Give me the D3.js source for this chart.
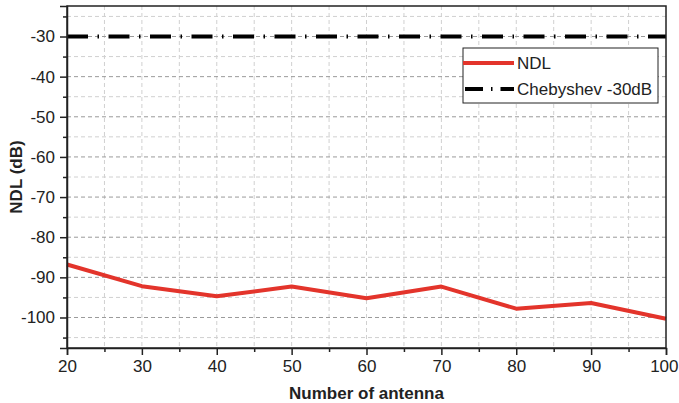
<!DOCTYPE html>
<html lang="en">
<head>
<meta charset="UTF-8">
<title>NDL vs number of antenna</title>
<script src="https://cdn.jsdelivr.net/npm/d3@7"></script>
<style>
  body { margin: 0; background: #fff; }
  text { font-family: "Liberation Sans", Arial, sans-serif; fill: #222; }
</style>
</head>
<body>
<div id="chart"></div>
<script>
// data
var antennas = [20, 30, 40, 50, 60, 70, 80, 90, 100];
var ndl = [-86.8, -92.2, -94.7, -92.3, -95.2, -92.3, -97.8, -96.4, -100.3];
var chebyshev = -30;
var xTicks = [20, 30, 40, 50, 60, 70, 80, 90, 100];
var yTicks = [-30, -40, -50, -60, -70, -80, -90, -100];
var legendLabels = ["NDL", "Chebyshev -30dB"];

var W = 679, H = 403;
var m = {left: 67, right: 13, top: 6, bottom: 55};

var svg = d3.select("#chart").append("svg")
  .attr("width", W).attr("height", H);

var x = d3.scaleLinear().domain([20, 100]).range([m.left, W - m.right]);
var y = d3.scaleLinear().domain([-107.6, -22.4]).range([H - m.bottom, m.top]);

var xMinor = d3.range(20, 100.1, 5);
var yMinor = d3.range(-105, -24, 5);

// grid
svg.append("g").selectAll("line.vg")
  .data(xMinor.filter(function(d){ return d > 20 && d < 100; }))
  .enter().append("line")
  .attr("x1", function(d){ return x(d); }).attr("x2", function(d){ return x(d); })
  .attr("y1", y.range()[1]).attr("y2", y.range()[0])
  .attr("stroke", "#d0d0d0").attr("stroke-width", 1).attr("stroke-dasharray", "4,3");

svg.append("g").selectAll("line.hg")
  .data(yMinor)
  .enter().append("line")
  .attr("x1", x.range()[0]).attr("x2", x.range()[1])
  .attr("y1", function(d){ return y(d); }).attr("y2", function(d){ return y(d); })
  .attr("stroke", function(d){ return d % 10 === 0 ? "#9a9a9a" : "#d0d0d0"; })
  .attr("stroke-width", 1).attr("stroke-dasharray", "4,3");

// chebyshev reference
svg.append("line")
  .attr("x1", x(20)).attr("x2", x(100))
  .attr("y1", y(chebyshev)).attr("y2", y(chebyshev))
  .attr("stroke", "#000").attr("stroke-width", 4)
  .attr("stroke-dasharray", "21,9.5,1.5,9.5");

// NDL line
var line = d3.line()
  .x(function(d, i){ return x(antennas[i]); })
  .y(function(d){ return y(d); });

svg.append("path")
  .datum(ndl)
  .attr("d", line)
  .attr("fill", "none")
  .attr("stroke", "#e3342b")
  .attr("stroke-width", 4)
  .attr("stroke-linejoin", "round");

// axes
var fmt = function(d){ return String(d); };
var xg = svg.append("g")
  .attr("transform", "translate(0," + y.range()[0] + ")")
  .call(d3.axisBottom(x).tickValues(xTicks).tickSize(7).tickPadding(5).tickFormat(fmt));
svg.append("g")
  .attr("transform", "translate(" + x.range()[0] + ",0)")
  .call(d3.axisLeft(y).tickValues(yTicks).tickSize(7).tickPadding(5).tickFormat(fmt));

svg.append("g")
  .attr("transform", "translate(0," + y.range()[0] + ")")
  .call(d3.axisBottom(x).tickValues(xMinor.filter(function(d){ return d % 10 !== 0; })).tickSize(4).tickFormat(""))
  .select(".domain").remove();
svg.append("g")
  .attr("transform", "translate(" + x.range()[0] + ",0)")
  .call(d3.axisLeft(y).tickValues(yMinor.filter(function(d){ return d % 10 !== 0; })).tickSize(4).tickFormat(""))
  .select(".domain").remove();

svg.selectAll(".tick line").attr("stroke", "#222").attr("stroke-width", 1.5);
svg.selectAll(".domain").attr("stroke", "#222").attr("stroke-width", 1.5);
svg.selectAll(".tick text").style("font-size", "17px").style("fill", "#222")
  .style("font-family", "'Liberation Sans', Arial, sans-serif");

// keep the last x label inside the page
xg.selectAll(".tick text").filter(function(d){ return d === 100; })
  .attr("text-anchor", "end").attr("x", 12);

// frame top / right
svg.append("rect")
  .attr("x", x.range()[0]).attr("y", y.range()[1])
  .attr("width", x.range()[1] - x.range()[0])
  .attr("height", y.range()[0] - y.range()[1])
  .attr("fill", "none").attr("stroke", "#222").attr("stroke-width", 1.5);

// axis titles
svg.append("text")
  .attr("x", (x.range()[0] + x.range()[1]) / 2).attr("y", 399)
  .attr("text-anchor", "middle")
  .style("font-size", "17px").style("font-weight", "bold")
  .text("Number of antenna");

svg.append("text")
  .attr("transform", "translate(22," + (y.range()[0] + y.range()[1]) / 2 + ") rotate(-90)")
  .attr("text-anchor", "middle")
  .style("font-size", "17px").style("font-weight", "bold")
  .text("NDL (dB)");

// legend
var lg = svg.append("g").attr("transform", "translate(463,48)");
lg.append("rect")
  .attr("width", 195).attr("height", 55)
  .attr("fill", "#fff").attr("stroke", "#222").attr("stroke-width", 1);
lg.append("line")
  .attr("x1", 0).attr("x2", 51).attr("y1", 15).attr("y2", 15)
  .attr("stroke", "#e3342b").attr("stroke-width", 4);
lg.append("line")
  .attr("x1", 2).attr("x2", 51).attr("y1", 41).attr("y2", 41)
  .attr("stroke", "#000").attr("stroke-width", 4)
  .attr("stroke-dasharray", "18,8,1.5,8");
lg.selectAll("text.lab")
  .data(legendLabels)
  .enter().append("text")
  .attr("x", 54).attr("y", function(d, i){ return 21 + i * 26; })
  .style("font-size", "17px")
  .text(function(d){ return d; });
</script>
</body>
</html>
